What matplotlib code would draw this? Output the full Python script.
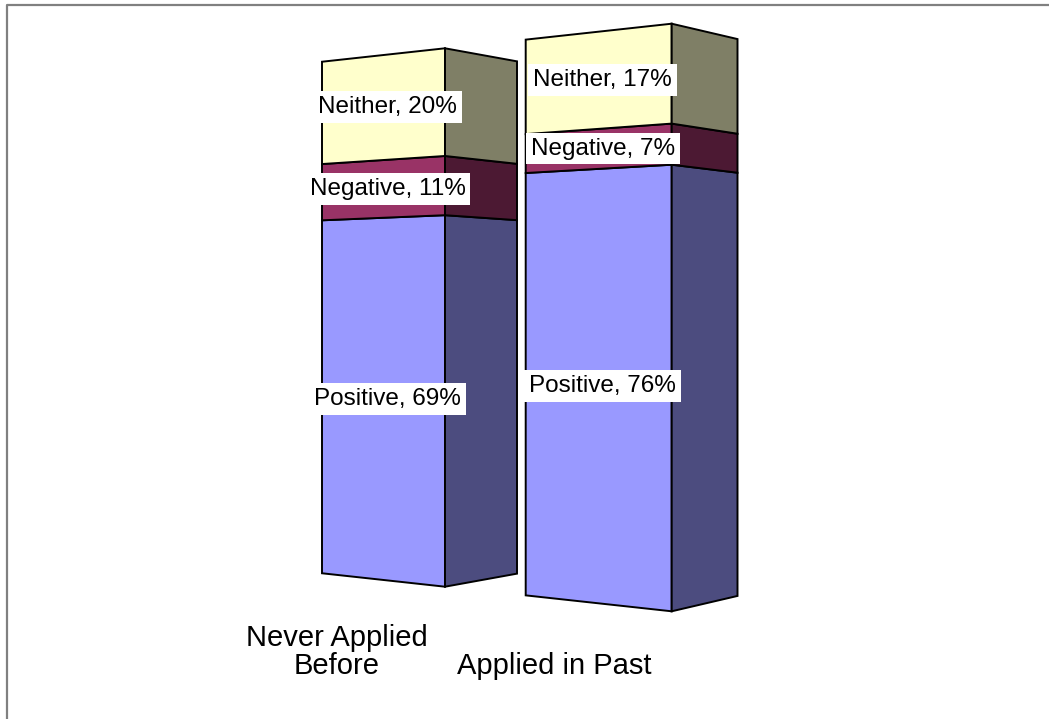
import matplotlib.pyplot as plt
from matplotlib.patches import Polygon
from matplotlib.lines import Line2D

plt.rcParams['font.family'] = ['Liberation Sans', 'DejaVu Sans']

categories = ['Never Applied\nBefore', 'Applied in Past']
series = ['Positive', 'Negative', 'Neither']
positive = [69, 76]
negative = [11, 7]
neither = [20, 17]

front_colors = ['#9999ff', '#993366', '#ffffcc']
side_colors = ['#4c4c7f', '#4c1933', '#7f7f66']

# two-point perspective: horizon line and the two vanishing points (pixels)
HORIZON = 317.5
VL, VR = -2020.0, 1930.0

# box outline per column: left edge, near corner, right edge, half height at near corner
frames = [(322.0, 445.0, 517.0, 269.2),
          (525.7, 671.7, 737.5, 293.8)]
label_pos = [(337, 680), (554, 680)]


def half_height(frame, u):
    left, near, right, h = frame
    if u <= near:
        return h * (u - VL) / (near - VL)
    return h * (VR - u) / (VR - near)


def y_at(frame, u, pct):
    h = half_height(frame, u)
    return HORIZON + h - 2 * h * pct / 100.0


fig = plt.figure(figsize=(10.49, 7.19), dpi=100)
ax = fig.add_axes([0, 0, 1, 1])
ax.set_xlim(0, 1049)
ax.set_ylim(719, 0)
ax.axis('off')

values = [positive, negative, neither]
for i, frame in enumerate(frames):
    left, near, right, _ = frame
    base = 0
    for k, name in enumerate(series):
        v = values[k][i]
        z0, z1 = base, base + v
        front = [(left, y_at(frame, left, z0)), (near, y_at(frame, near, z0)),
                 (near, y_at(frame, near, z1)), (left, y_at(frame, left, z1))]
        side = [(near, y_at(frame, near, z0)), (right, y_at(frame, right, z0)),
                (right, y_at(frame, right, z1)), (near, y_at(frame, near, z1))]
        ax.add_patch(Polygon(front, closed=True, facecolor=front_colors[k],
                             edgecolor='black', lw=1.4, joinstyle='miter'))
        ax.add_patch(Polygon(side, closed=True, facecolor=side_colors[k],
                             edgecolor='black', lw=1.4, joinstyle='miter'))
        uc = (left + near) / 2 + 4
        ax.text(uc, y_at(frame, uc, (z0 + z1) / 2), f'{name}, {v}%',
                ha='center', va='center', fontsize=17.5, color='black',
                bbox=dict(boxstyle='square,pad=0.2', facecolor='white',
                          edgecolor='none'))
        base = z1

for (x, y), cat in zip(label_pos, categories):
    ax.text(x, y, cat, ha='center', va='bottom', fontsize=21,
            linespacing=1.0, multialignment='center')

# chart area frame (only the top and left edges fall inside the image)
ax.add_line(Line2D([7, 7, 1049], [719, 4.5, 4.5], color='#808080', lw=1.6))

fig.savefig('out.png', dpi=100)
